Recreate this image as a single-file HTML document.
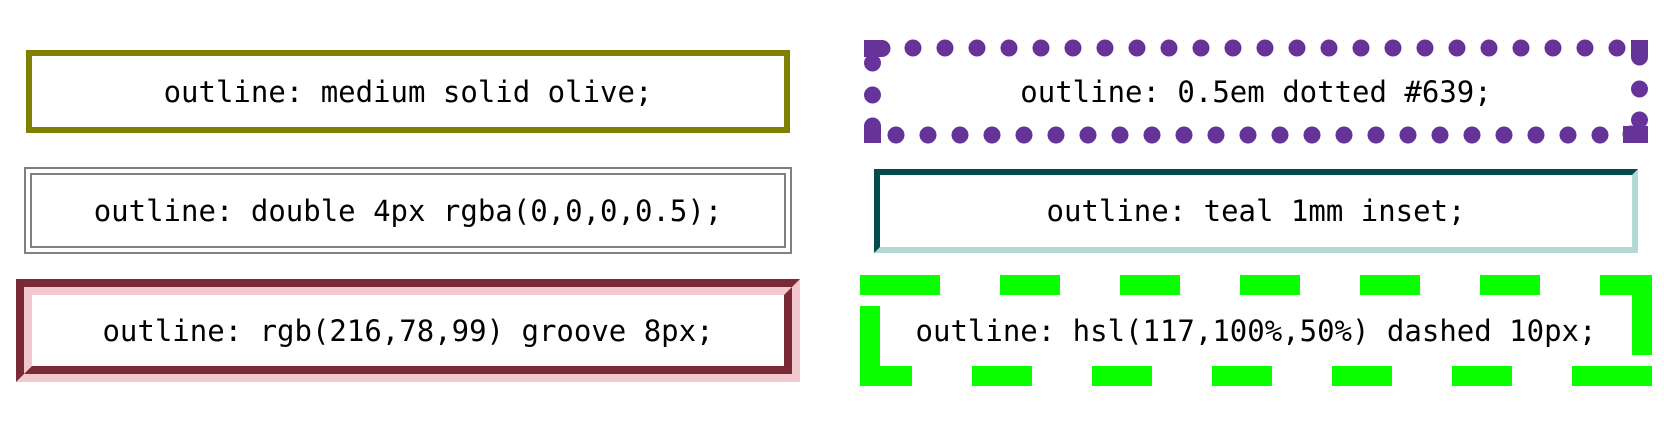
<!DOCTYPE html>
<html><head><meta charset="utf-8"><style>
body{margin:0;width:1664px;height:422px;background:#fff;position:relative;overflow:hidden;font-family:"DejaVu Sans Mono","Liberation Mono",monospace;}
.b{position:absolute;box-sizing:border-box;display:flex;align-items:center;justify-content:center;font-size:29px;color:#000;white-space:nowrap;}
svg{position:absolute;left:0;top:0;}
</style></head><body>
<svg width="1664" height="422">
<g fill="#663399">
<rect x="864" y="40" width="18" height="17"/><circle cx="882" cy="48.5" r="8.5"/><circle cx="872.5" cy="63" r="8.5"/>
<circle cx="872.5" cy="95" r="8.5"/>
<rect x="864" y="126" width="17" height="17"/><circle cx="872.5" cy="126" r="8.5"/>
<rect x="1631" y="40" width="17" height="17"/><circle cx="1639.5" cy="57" r="8.5"/>
<circle cx="1639.5" cy="89" r="8.5"/>
<circle cx="1639.5" cy="120" r="8.5"/><rect x="1623" y="126" width="25" height="17"/><circle cx="1631" cy="134" r="8.5"/>
</g>
<g fill="#0aff00">
<rect x="860" y="275" width="80" height="20"/>
<rect x="1000" y="275" width="60" height="20"/><rect x="1120" y="275" width="60" height="20"/><rect x="1240" y="275" width="60" height="20"/><rect x="1360" y="275" width="60" height="20"/><rect x="1480" y="275" width="60" height="20"/>
<rect x="1600" y="275" width="52" height="20"/><rect x="1632" y="275" width="20" height="80"/>
<rect x="860" y="306" width="20" height="80"/><rect x="860" y="366" width="52" height="20"/>
<rect x="972" y="366" width="60" height="20"/><rect x="1092" y="366" width="60" height="20"/><rect x="1212" y="366" width="60" height="20"/><rect x="1332" y="366" width="60" height="20"/><rect x="1452" y="366" width="60" height="20"/>
<rect x="1572" y="366" width="80" height="20"/>
</g>
<g fill="#663399">
<circle cx="913" cy="48" r="8.5"/><circle cx="945" cy="48" r="8.5"/><circle cx="977" cy="48" r="8.5"/><circle cx="1009" cy="48" r="8.5"/><circle cx="1041" cy="48" r="8.5"/><circle cx="1073" cy="48" r="8.5"/><circle cx="1105" cy="48" r="8.5"/><circle cx="1137" cy="48" r="8.5"/><circle cx="1169" cy="48" r="8.5"/><circle cx="1201" cy="48" r="8.5"/><circle cx="1233" cy="48" r="8.5"/><circle cx="1265" cy="48" r="8.5"/><circle cx="1297" cy="48" r="8.5"/><circle cx="1329" cy="48" r="8.5"/><circle cx="1361" cy="48" r="8.5"/><circle cx="1393" cy="48" r="8.5"/><circle cx="1425" cy="48" r="8.5"/><circle cx="1457" cy="48" r="8.5"/><circle cx="1489" cy="48" r="8.5"/><circle cx="1521" cy="48" r="8.5"/><circle cx="1553" cy="48" r="8.5"/><circle cx="1585" cy="48" r="8.5"/><circle cx="1617" cy="48" r="8.5"/>
<circle cx="896" cy="135" r="8.5"/><circle cx="928" cy="135" r="8.5"/><circle cx="960" cy="135" r="8.5"/><circle cx="992" cy="135" r="8.5"/><circle cx="1024" cy="135" r="8.5"/><circle cx="1056" cy="135" r="8.5"/><circle cx="1088" cy="135" r="8.5"/><circle cx="1120" cy="135" r="8.5"/><circle cx="1152" cy="135" r="8.5"/><circle cx="1184" cy="135" r="8.5"/><circle cx="1216" cy="135" r="8.5"/><circle cx="1248" cy="135" r="8.5"/><circle cx="1280" cy="135" r="8.5"/><circle cx="1312" cy="135" r="8.5"/><circle cx="1344" cy="135" r="8.5"/><circle cx="1376" cy="135" r="8.5"/><circle cx="1408" cy="135" r="8.5"/><circle cx="1440" cy="135" r="8.5"/><circle cx="1472" cy="135" r="8.5"/><circle cx="1504" cy="135" r="8.5"/><circle cx="1536" cy="135" r="8.5"/><circle cx="1568" cy="135" r="8.5"/><circle cx="1600" cy="135" r="8.5"/>
</g></svg>
<div class="b" style="left:26px;top:50px;width:764px;height:83px;border:6px solid #808000;">outline: medium solid olive;</div>
<div class="b" style="left:24px;top:167px;width:768px;height:87px;border:2px solid #808080;"><div class="b" style="left:4px;top:4px;right:4px;bottom:4px;border:2px solid #808080;">outline: double 4px rgba(0,0,0,0.5);</div></div>
<div class="b" style="left:16px;top:279px;width:784px;height:103px;border:8px solid;border-color:#7a2a36 #f2c8ce #f2c8ce #7a2a36;"><div class="b" style="left:0;top:0;right:0;bottom:0;border:8px solid;border-color:#f2c8ce #7a2a36 #7a2a36 #f2c8ce;">outline: rgb(216,78,99) groove 8px;</div></div>
<div class="b" style="left:864px;top:40px;width:784px;height:103px;">outline: 0.5em dotted #639;</div>
<div class="b" style="left:874px;top:169px;width:764px;height:84px;border:6px solid;border-color:#004c4c #b2d8d8 #b2d8d8 #004c4c;">outline: teal 1mm inset;</div>
<div class="b" style="left:860px;top:275px;width:792px;height:112px;">outline: hsl(117,100%,50%) dashed 10px;</div>
</body></html>
